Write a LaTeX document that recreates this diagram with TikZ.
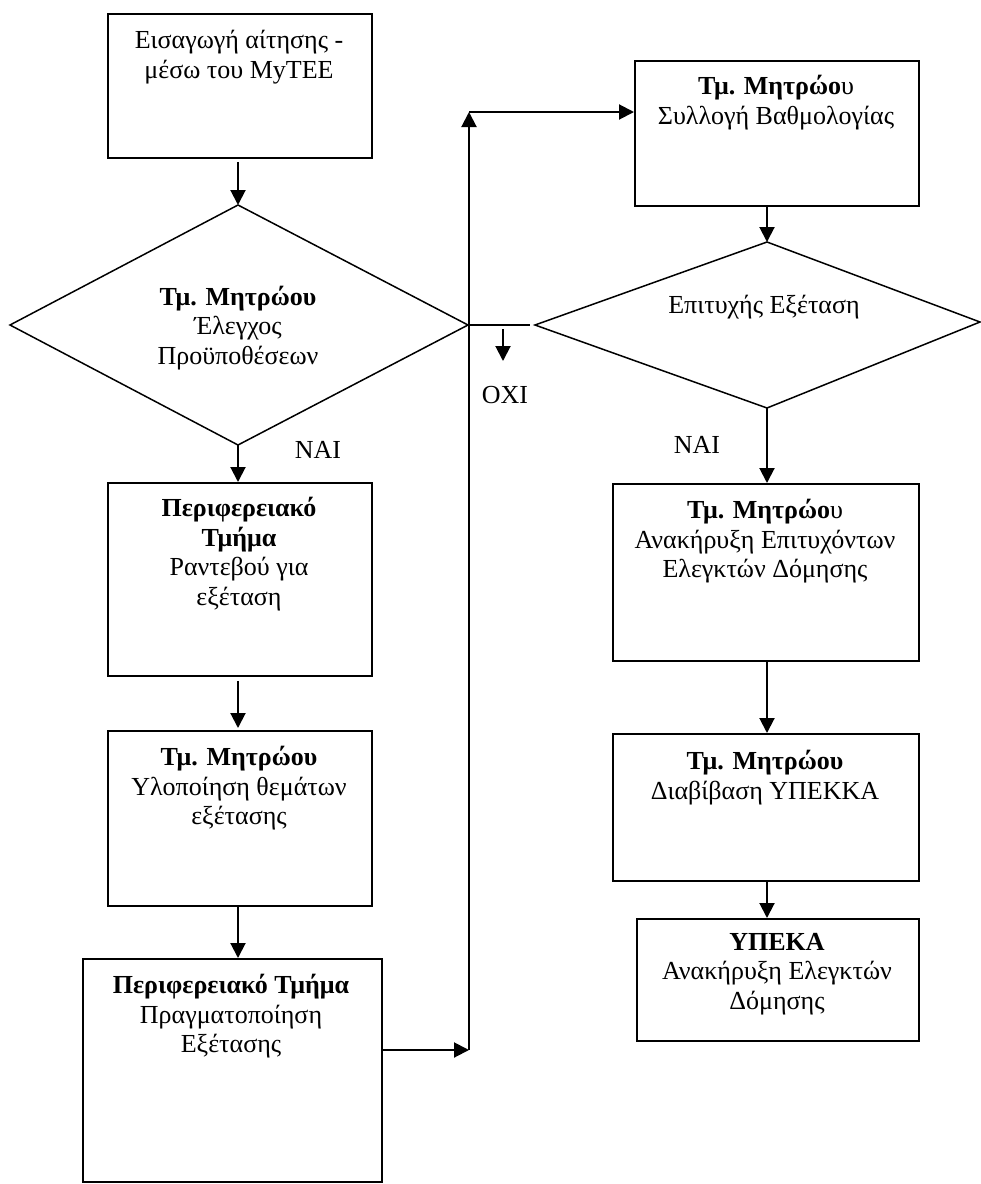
\documentclass[tikz,border=0pt]{standalone}
\usepackage{fontspec}
\setmainfont{Liberation Serif}
\usetikzlibrary{arrows.meta}
\begin{document}
\begin{tikzpicture}[x=1pt,y=-1pt,
  box/.style={draw, line width=1.8pt, inner sep=0pt, anchor=north west},
  txt/.style={align=center, font=\fontsize{26}{29.5}\selectfont, inner sep=0pt, anchor=north},
  arr/.style={line width=2pt, -{Triangle[length=15pt,width=15pt]}},
  dia/.style={line width=1.5pt, line join=miter},
  lbl/.style={font=\fontsize{26}{29.5}\selectfont, inner sep=0pt}]
\useasboundingbox (0,0) rectangle (981,1184);
% left column boxes
\node[box, minimum width=264pt, minimum height=144pt] (b1) at (107,13) {};
\node[txt] (t1) at (239,30) {Εισαγωγή αίτησης -\\μέσω του MyTEE};
% diamond 1
\coordinate (d1l) at (10,325);
\coordinate (d1t) at (238,205);
\coordinate (d1r) at (468,325);
\coordinate (d1b) at (238,445);
\draw[dia] (d1l) -- (d1t) -- (d1r) -- (d1b) -- cycle;
\node[txt, anchor=center] (td1) at (238,328) {\textbf{Τμ. Μητρώου}\\Έλεγχος\\Προϋποθέσεων};
\node[lbl] (nai1) at (318,450) {ΝΑΙ};
\node[box, minimum width=264pt, minimum height=193pt] (b2) at (107,482) {};
\node[txt] (t2) at (239,497) {\textbf{Περιφερειακό}\\\textbf{Τμήμα}\\Ραντεβού για\\εξέταση};
\node[box, minimum width=264pt, minimum height=175pt] (b3) at (107,730) {};
\node[txt] (t3) at (239,746) {\textbf{Τμ. Μητρώου}\\Υλοποίηση θεμάτων\\εξέτασης};
\node[box, minimum width=299pt, minimum height=223pt] (b4) at (82,958) {};
\node[txt] (t4) at (231,974) {\textbf{Περιφερειακό Τμήμα}\\Πραγματοποίηση\\Εξέτασης};
% right column
\node[box, minimum width=284pt, minimum height=145pt] (r1) at (634,60) {};
\node[txt] (tr1) at (776,75) {\textbf{Τμ. Μητρώο}υ\\Συλλογή Βαθμολογίας};
\coordinate (d2l) at (535,325);
\coordinate (d2t) at (767,242);
\coordinate (d2r) at (980,322);
\coordinate (d2b) at (767,408);
\draw[dia] (d2l) -- (d2t) -- (d2r) -- (d2b) -- cycle;
\node[lbl] (td2) at (764,307) {Επιτυχής Εξέταση};
\node[lbl] (nai2) at (697,445) {ΝΑΙ};
\node[box, minimum width=306pt, minimum height=177pt] (r2) at (612,483) {};
\node[txt] (tr2) at (765,499) {\textbf{Τμ. Μητρώο}υ\\Ανακήρυξη Επιτυχόντων\\Ελεγκτών Δόμησης};
\node[box, minimum width=306pt, minimum height=147pt] (r3) at (612,733) {};
\node[txt] (tr3) at (765,750) {\textbf{Τμ. Μητρώου}\\Διαβίβαση ΥΠΕΚΚΑ};
\node[box, minimum width=282pt, minimum height=122pt] (r4) at (636,918) {};
\node[txt] (tr4) at (777,933) {\textbf{ΥΠΕΚΑ}\\Ανακήρυξη Ελεγκτών\\Δόμησης};
% junction coordinates
\coordinate (jb) at (469,1050);
\coordinate (jt) at (469,112);
\coordinate (no1) at (530,325);
\coordinate (ns) at (503,329);
\coordinate (ne) at (503,361);
\node[lbl] (oxi) at (505,395) {ΟΧΙ};
% connectors
\draw[arr, shorten <=3pt] (d1t |- b1.south) -- (d1t);
\draw[arr] (d1b) -- (d1b |- b2.north);
\draw[arr, shorten <=4pt] (d1b |- b2.south) -- ([yshift=2pt]d1b |- b3.north);
\draw[arr] (d1b |- b3.south) -- (d1b |- b4.north);
\draw[arr] (b4.east |- jb) -- (jb);
\draw[arr] (jb) -- (jt);
\draw[arr] (jt) -- (r1.west |- jt);
\draw[dia] (d1r) -- (no1);
\draw[arr] (ns) -- (ne);
\draw[arr] (d2t |- r1.south) -- (d2t);
\draw[arr] (d2b) -- (d2b |- r2.north);
\draw[arr] (d2b |- r2.south) -- (d2b |- r3.north);
\draw[arr] (d2b |- r3.south) -- (d2b |- r4.north);
\end{tikzpicture}
\end{document}
